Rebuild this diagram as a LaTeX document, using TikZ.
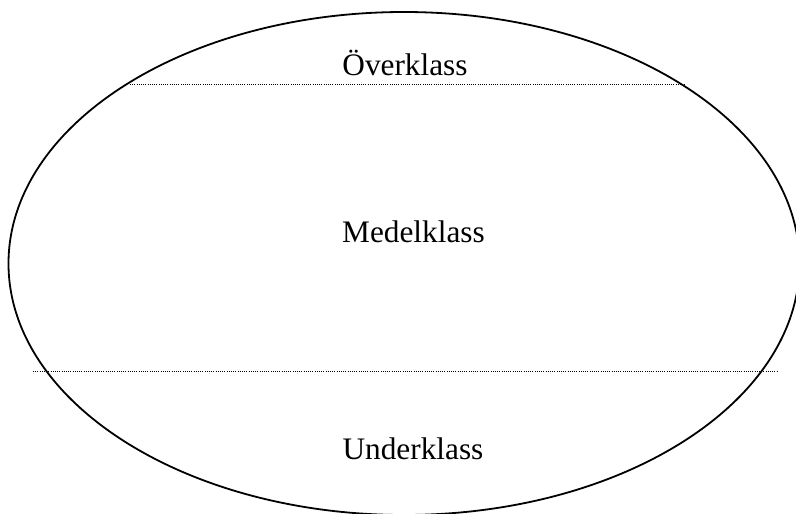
\documentclass[tikz,border=0pt]{standalone}
\usepackage{fontspec}
\setmainfont{Liberation Serif}
\begin{document}
\begin{tikzpicture}[x=1pt,y=-1pt,
  lbl/.style={anchor=base,inner sep=0pt,font=\fontsize{31.3}{37}\selectfont},
  divider/.style={line width=0.8pt,dash pattern=on 1pt off 1.2pt},
  outline/.style={line width=1.8pt}]
\useasboundingbox (0,0) rectangle (796,514);
\begin{scope}
\clip (0,0) rectangle (796,514);
\draw[outline] (404,263.5) ellipse [x radius=395.5, y radius=251.5];
\end{scope}
\coordinate (tl) at (130,84);
\coordinate (tr) at (685,84);
\coordinate (bl) at (33,371);
\coordinate (br) at (778,371);
\draw[divider] (tl) -- (tr);
\draw[divider] (bl) -- (br);
\node[lbl] (over) at (405,75) {Överklass};
\node[lbl] (medel) at (413.5,242) {Medelklass};
\node[lbl] (under) at (413,459) {Underklass};
\end{tikzpicture}
\end{document}
